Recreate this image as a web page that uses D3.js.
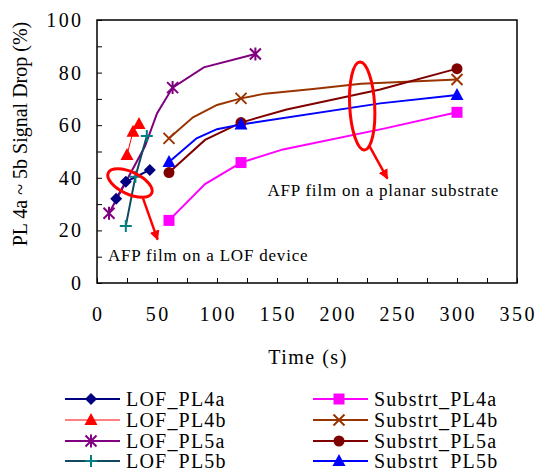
<!DOCTYPE html>
<html><head><meta charset="utf-8">
<script src="https://cdn.jsdelivr.net/npm/d3@7"></script>
<style>body{margin:0;background:#fff}svg{display:block}text{font-family:"Liberation Serif","Times New Roman",serif;fill:#000}</style>
</head><body>
<script>
// ---- data ----
const xTicks = [0,50,100,150,200,250,300,350];
const yTicks = [0,20,40,60,80,100];

const lofPL4aTime = [16,24,44];        const lofPL4aDrop = [32,38.5,43];
const lofPL4bTime = [25,30,35];        const lofPL4bDrop = [48.7,57.5,60.5];
const lofPL5aTime = [10,40,50,63,89,132]; const lofPL5aDrop = [26.5,52,64.5,74.3,82,87.1]; const lofPL5aMarks=[0,3,5];
const lofPL5bTime = [24,32,41.5];      const lofPL5bDrop = [21.7,40.4,55.9];

const subPL4aTime = [60,90,120,155,240,300]; const subPL4aDrop = [23.8,37.6,45.8,50.8,58.8,64.9]; const subPL4aMarks=[0,2,5];
const subPL4bTime = [60,80,100,120,140,180,220,300]; const subPL4bDrop = [55,63,67.7,70.2,72,73.8,75.8,77.4]; const subPL4bMarks=[0,3,7];
const subPL5aTime = [60,90,120,158,236,300]; const subPL5aDrop = [42,54.4,61,66,73.6,81.5]; const subPL5aMarks=[0,2,5];
const subPL5bTime = [60,83,100,120,236,300]; const subPL5bDrop = [46,55,58.5,60.3,68.3,71.5]; const subPL5bMarks=[0,3,5];

const seriesNames = ["LOF_PL4a","LOF_PL4b","LOF_PL5a","LOF_PL5b","Substrt_PL4a","Substrt_PL4b","Substrt_PL5a","Substrt_PL5b"];

const W=536,H=470;
const svg=d3.select("body").append("svg").attr("width",W).attr("height",H);
const x=d3.scaleLinear().domain([0,350]).range([97,517]);
const y=d3.scaleLinear().domain([0,100]).range([283,20]);

function mk(t,v,marks){return t.map((d,i)=>({t:d,v:v[i],m:marks?marks.includes(i):true}));}
const series=[
 {name:seriesNames[0],pts:mk(lofPL4aTime,lofPL4aDrop),line:"#000080",lw:2,shape:"diamond",fill:"#000080"},
 {name:seriesNames[1],pts:mk(lofPL4bTime,lofPL4bDrop),line:"#FF0000",lw:1,shape:"triangle",fill:"#FF0000"},
 {name:seriesNames[2],pts:mk(lofPL5aTime,lofPL5aDrop,lofPL5aMarks),line:"#800080",lw:2,shape:"asterisk",fill:"#800080"},
 {name:seriesNames[3],pts:mk(lofPL5bTime,lofPL5bDrop),line:"#0F4A60",lw:2,shape:"plus",fill:"#008080"},
 {name:seriesNames[4],pts:mk(subPL4aTime,subPL4aDrop,subPL4aMarks),line:"#FF00FF",lw:2,shape:"square",fill:"#FF00FF"},
 {name:seriesNames[5],pts:mk(subPL4bTime,subPL4bDrop,subPL4bMarks),line:"#993300",lw:2,shape:"x",fill:"#993300"},
 {name:seriesNames[6],pts:mk(subPL5aTime,subPL5aDrop,subPL5aMarks),line:"#800000",lw:2,shape:"circle",fill:"#800000"},
 {name:seriesNames[7],pts:mk(subPL5bTime,subPL5bDrop,subPL5bMarks),line:"#0000FF",lw:2,shape:"triangle",fill:"#0000FF"}
];

function drawMarker(g,shape,cx,cy,col){
  const s=g.append("g").attr("transform",`translate(${cx},${cy})`);
  if(shape==="diamond") s.append("path").attr("d","M0,-6L6,0L0,6L-6,0Z").attr("fill",col);
  else if(shape==="triangle") s.append("path").attr("d","M0,-7L6.5,5L-6.5,5Z").attr("fill",col);
  else if(shape==="square") s.append("rect").attr("x",-5.5).attr("y",-5.5).attr("width",11).attr("height",11).attr("fill",col);
  else if(shape==="circle") s.append("circle").attr("r",5.5).attr("fill",col);
  else if(shape==="x") s.append("path").attr("d","M-5.5,-5.5L5.5,5.5M-5.5,5.5L5.5,-5.5").attr("stroke",col).attr("stroke-width",2);
  else if(shape==="plus") s.append("path").attr("d","M-6,0L6,0M0,-6L0,6").attr("stroke",col).attr("stroke-width",2);
  else if(shape==="asterisk") s.append("path").attr("d","M-5.5,-5.5L5.5,5.5M-5.5,5.5L5.5,-5.5M0,-6.5L0,6.5").attr("stroke",col).attr("stroke-width",2);
}

// frame
svg.append("rect").attr("x",97).attr("y",20).attr("width",420).attr("height",263).attr("fill","none").attr("stroke","#000").attr("stroke-width",1.5);
// ticks (inward)
const xa=d3.axisBottom(x).tickValues(d3.range(0,351,25)).tickSize(-5).tickFormat("");
svg.append("g").attr("transform","translate(0,283)").call(xa).call(g=>{g.select(".domain").remove();g.selectAll("line").attr("stroke","#000");});
const ya=d3.axisLeft(y).tickValues(d3.range(0,101,10)).tickSize(-5).tickFormat("");
svg.append("g").attr("transform","translate(97,0)").call(ya).call(g=>{g.select(".domain").remove();g.selectAll("line").attr("stroke","#000");});
// tick labels
svg.selectAll(".xl").data(xTicks).enter().append("text").attr("x",d=>x(d)+1.2).attr("y",321).attr("text-anchor","middle").attr("font-size",20).attr("letter-spacing",2.4).text(d=>d);
svg.selectAll(".yl").data(yTicks).enter().append("text").attr("x",83.5).attr("y",d=>y(d)+7).attr("text-anchor","end").attr("font-size",20).attr("letter-spacing",2.4).text(d=>d);
// titles
svg.append("text").attr("x",308).attr("y",364).attr("text-anchor","middle").attr("font-size",20).attr("letter-spacing",1.5).text("Time (s)");
svg.append("text").attr("transform","translate(27,134) rotate(-90)").attr("text-anchor","middle").attr("font-size",20).text("PL 4a ~ 5b Signal Drop (%)");

// lines and markers
const line=d3.line().x(d=>x(d.t)).y(d=>y(d.v));
const plot=svg.append("g");
series.forEach(s=>{
  plot.append("path").datum(s.pts).attr("d",line).attr("fill","none").attr("stroke",s.line).attr("stroke-width",s.lw);
});
series.forEach(s=>{
  s.pts.filter(p=>p.m).forEach(p=>drawMarker(plot,s.shape,x(p.t),y(p.v),s.fill));
});

// annotations
svg.append("defs").append("marker").attr("id","ah").attr("viewBox","0 0 10 10").attr("refX",9).attr("refY",5)
 .attr("markerWidth",4).attr("markerHeight",4).attr("orient","auto").attr("markerUnits","strokeWidth")
 .append("path").attr("d","M0,0L10,5L0,10Z").attr("fill","#FF0000");
svg.append("ellipse").attr("cx",x(27.5)).attr("cy",y(38)).attr("rx",24).attr("ry",11)
 .attr("transform",`rotate(25,${x(27.5)},${y(38)})`).attr("fill","none").attr("stroke","#FF0000").attr("stroke-width",3);
svg.append("line").attr("x1",x(38.3)).attr("y1",y(32.3)).attr("x2",x(50.5)).attr("y2",y(16.5))
 .attr("stroke","#FF0000").attr("stroke-width",2.5).attr("marker-end","url(#ah)");
svg.append("ellipse").attr("cx",x(221)).attr("cy",y(67.3)).attr("rx",12.5).attr("ry",44)
 .attr("transform",`rotate(-3,${x(221)},${y(67.3)})`).attr("fill","none").attr("stroke","#FF0000").attr("stroke-width",3);
svg.append("line").attr("x1",x(226.5)).attr("y1",y(52.5)).attr("x2",x(242)).attr("y2",y(39.7))
 .attr("stroke","#FF0000").attr("stroke-width",2.5).attr("marker-end","url(#ah)");
svg.append("text").attr("x",108).attr("y",261).attr("font-size",17).attr("letter-spacing",0.8).text("AFP film on a LOF device");
svg.append("text").attr("x",499).attr("y",196).attr("text-anchor","end").attr("font-size",17).attr("letter-spacing",0.8).text("AFP film on a planar substrate");

// legend
const legX=[65,313], legY=[399,420,441,461];
series.forEach((s,i)=>{
  const col=Math.floor(i/4), row=i%4;
  const g=svg.append("g");
  const x0=legX[col], yy=legY[row];
  g.append("line").attr("x1",x0).attr("x2",x0+55).attr("y1",yy).attr("y2",yy).attr("stroke",s.line).attr("stroke-width",s.lw);
  drawMarker(g,s.shape,x0+26,yy,s.fill);
  g.append("text").attr("x",x0+61).attr("y",yy+6.5).attr("font-size",20).attr("letter-spacing",1.2).text(s.name);
});
</script>
</body></html>
